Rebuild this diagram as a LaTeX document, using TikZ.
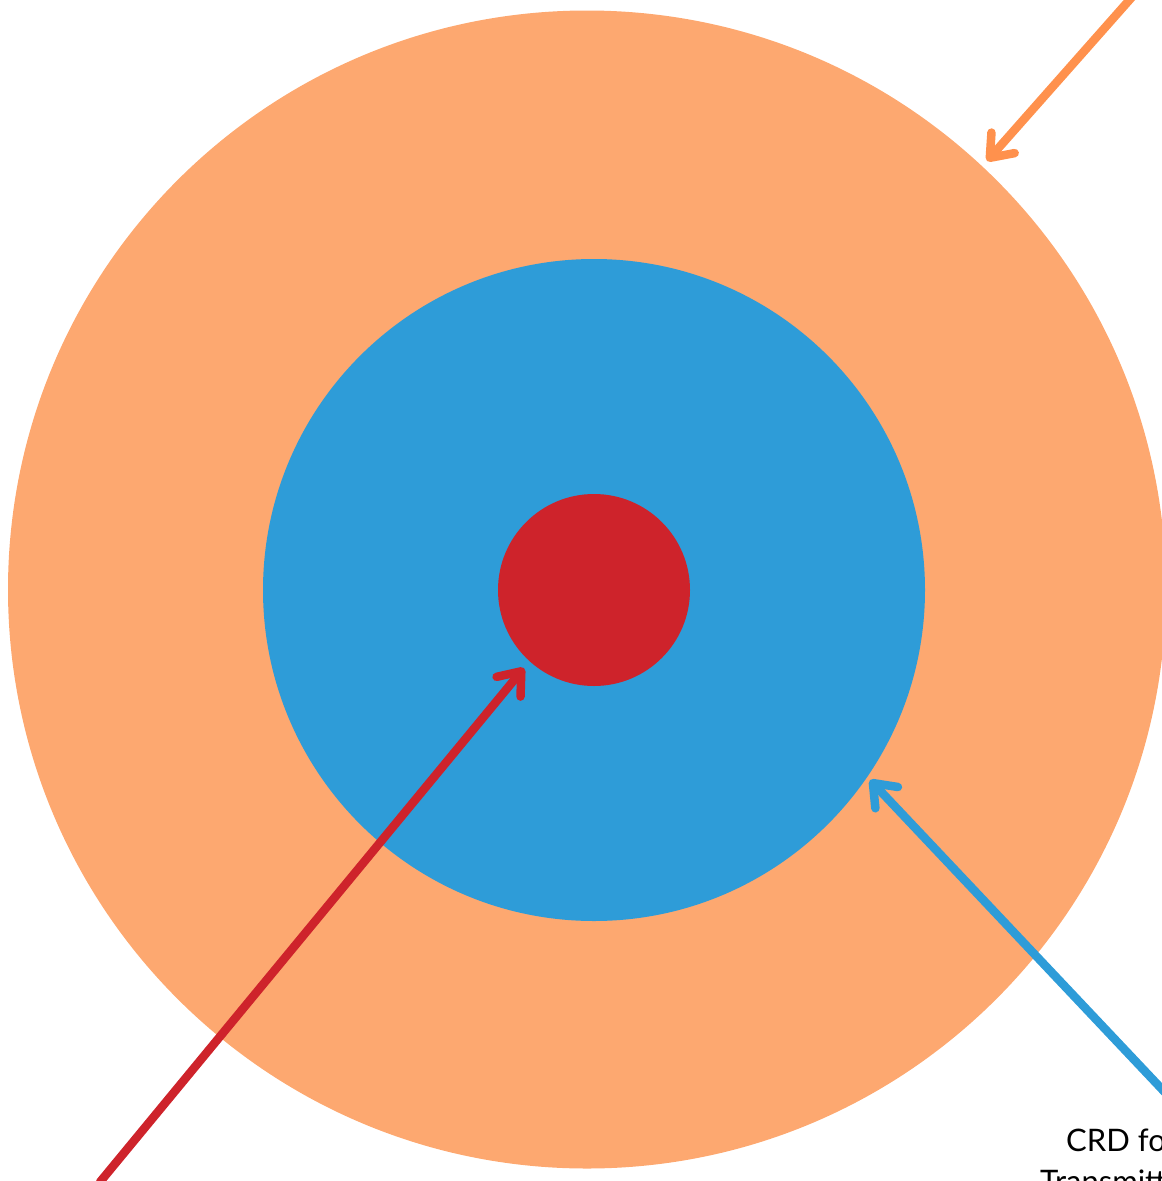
\documentclass[tikz,border=0pt]{standalone}
\usepackage{fontspec}
\setmainfont{Lato}
\usetikzlibrary{arrows.meta}
\definecolor{outerfill}{RGB}{253,168,112}
\definecolor{orangearrow}{RGB}{255,145,77}
\definecolor{bluefill}{RGB}{46,156,216}
\definecolor{redfill}{RGB}{206,35,43}
\tikzset{
  ring/.style={circle, inner sep=0pt, draw=none},
  pointer/.style={line width=8.5pt, line cap=round,
    -{Straight Barb[round, length=20pt, width=31pt]}},
  caption/.style={anchor=base west, inner sep=0pt, font=\fontsize{31}{37}\selectfont}
}
\begin{document}
\begin{tikzpicture}[x=1pt,y=-1pt]
\useasboundingbox (0,0) rectangle (1162,1181);
\clip (0,0) rectangle (1162,1181);
\node[ring, fill=outerfill, minimum size=1158pt] (outer) at (587,589.5) {};
\node[ring, fill=bluefill, minimum size=662pt] (middle) at (594,590) {};
\node[ring, fill=redfill, minimum size=192pt] (inner) at (594,590) {};
\coordinate (oStart) at (1140,-12);
\coordinate (oTip) at (987,161);
\coordinate (rStart) at (100,1182);
\coordinate (rTip) at (524,668);
\coordinate (bStart) at (1175,1103);
\coordinate (bTip) at (870,780);
\draw[pointer, draw=orangearrow] (oStart) -- (oTip);
\draw[pointer, draw=redfill] (rStart) -- (rTip);
\draw[pointer, draw=bluefill] (bStart) -- (bTip);
\node[caption] (cap1) at (1066,1151) {CRD for};
\node[caption] (cap2) at (1040,1192) {Transmitter};
\end{tikzpicture}
\end{document}
